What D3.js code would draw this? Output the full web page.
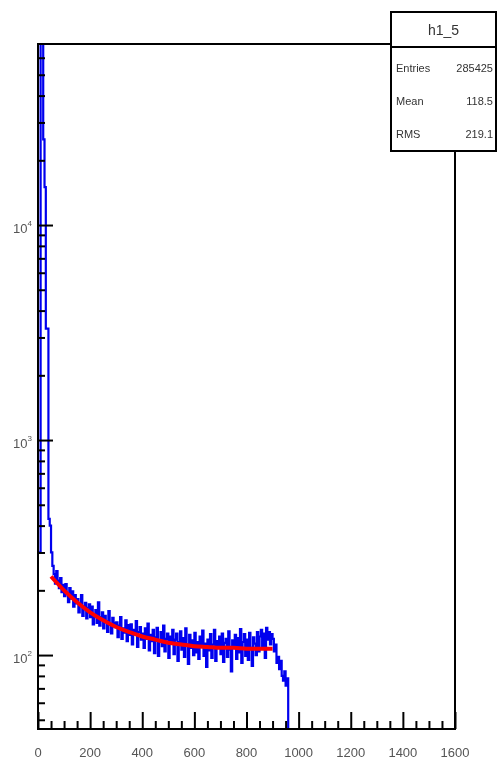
<!DOCTYPE html>
<html>
<head>
<meta charset="utf-8">
<script src="https://cdn.jsdelivr.net/npm/d3@7"></script>
<style>
  html, body { margin: 0; padding: 0; background: #fff; }
  svg { display: block; filter: blur(0.5px); }
  text { font-family: "Liberation Sans", Arial, sans-serif; }
</style>
</head>
<body>
<div id="chart"></div>
<script>
// histogram h1_5: bins of 5 units starting at 0 (content per bin)
var binWidth = 5
var binCounts = [
  300, 300, 90000, 80000, 25000, 15000, 3300, 3300, 430, 400, 300, 260,
  238, 215, 246, 222, 205, 228, 196, 212,
  188, 214, 192, 176, 205, 183, 198, 168, 190, 174,
  182, 158, 171, 190, 152, 168, 175, 148, 166, 172,
  150, 168, 139, 155, 162, 141, 176, 137, 150, 158,
  133, 152, 144, 128, 160, 138, 126, 149, 141, 135,
  142, 121, 137, 150, 119, 133, 127, 145, 116, 138,
  124, 139, 112, 131, 126, 144, 109, 128, 135, 118,
  126, 108, 133, 119, 140, 105, 124, 116, 131, 102,
  121, 134, 99, 117, 128, 110, 137, 104, 119, 126,
  97, 122, 113, 131, 101, 118, 126, 94, 115, 129,
  106, 120, 98, 133, 112, 91, 124, 108, 117, 100,
  127, 103, 115, 96, 122, 110, 130, 99, 113, 88,
  118, 105, 125, 97, 112, 131, 94, 116, 108, 122,
  101, 126, 93, 114, 119, 98, 129, 106, 84, 117,
  111, 124, 96, 120, 103, 132, 92, 115, 125, 99,
  118, 95, 127, 108, 89, 121, 113, 100, 128, 104,
  122, 131, 109, 126, 97, 134, 118, 128, 112, 125,
  119, 104, 112, 92, 98, 86, 94, 80, 76, 84, 72, 78
]

// fitted curve (red)
var fitX = [50, 100, 150, 200, 250, 300, 350, 400, 450, 500, 550, 600, 650, 700, 750, 800, 850, 900]
var fitY = [232, 200, 176, 158, 145, 135, 128, 122, 118, 114, 112, 110, 109, 108, 108, 107, 107, 107]

var xTicks = [0, 200, 400, 600, 800, 1000, 1200, 1400, 1600]
var yTickExps = [2, 3, 4]

var statsTitle = "h1_5"
var statsNames = ["Entries", "Mean", "RMS"]
var statsValues = ["285425", "118.5", "219.1"]

var W = 497, H = 762
var frame = {left: 38, right: 455, top: 44, bottom: 729}

var svg = d3.select("#chart").append("svg")
  .attr("width", W).attr("height", H)

var x = d3.scaleLinear().domain([0, 1600]).range([frame.left, frame.right])
var y = d3.scaleLog().domain([45.3, 69500]).range([frame.bottom, frame.top])

svg.append("clipPath").attr("id", "plotclip")
  .append("rect")
    .attr("x", frame.left).attr("y", frame.top)
    .attr("width", frame.right - frame.left)
    .attr("height", frame.bottom - frame.top)

var plot = svg.append("g").attr("clip-path", "url(#plotclip)")

// step outline of the histogram
var pts = []
binCounts.forEach(function(v, i) {
  var lo = i * binWidth, hi = lo + binWidth
  var yy = v > 0 ? y(v) : frame.bottom
  pts.push([x(lo), yy], [x(hi), yy])
})
pts.push([x(binCounts.length * binWidth), frame.bottom + 2])

plot.append("path")
  .attr("d", d3.line()(pts))
  .style("fill", "none")
  .style("stroke", "#0000ee")
  .style("stroke-width", 2.2)

// fit
plot.append("path")
  .datum(fitX.map(function(d, i) { return [d, fitY[i]] }))
  .attr("d", d3.line().x(function(d) { return x(d[0]) }).y(function(d) { return y(d[1]) }).curve(d3.curveMonotoneX))
  .style("fill", "none")
  .style("stroke", "#ff0000")
  .style("stroke-width", 4)

// frame
svg.append("rect")
  .attr("x", frame.left).attr("y", frame.top)
  .attr("width", frame.right - frame.left)
  .attr("height", frame.bottom - frame.top)
  .style("fill", "none").style("stroke", "#000").style("stroke-width", 2)

// x axis ticks: major every 200, minor every 50
var xAxis = d3.axisBottom(x).tickValues(d3.range(0, 1601, 50)).tickSize(0).tickFormat("")
var xg = svg.append("g").attr("transform", "translate(0," + frame.bottom + ")").call(xAxis)
xg.select(".domain").remove()
xg.selectAll(".tick line")
  .attr("y1", 0)
  .attr("y2", function(d) { return d % 200 === 0 ? -17 : -8 })
  .style("stroke", "#000").style("stroke-width", 2)

svg.selectAll(".xlab").data(xTicks).enter()
  .append("text")
    .attr("class", "xlab")
    .attr("x", function(d) { return x(d) })
    .attr("y", 757)
    .attr("text-anchor", "middle")
    .style("font-size", "13px")
    .style("fill", "#555")
    .text(function(d) { return d })

// y axis ticks: log decades + minors
var yTickVals = []
;[1, 2, 3, 4].forEach(function(e) {
  for (var m = 1; m <= 9; m++) {
    var v = m * Math.pow(10, e)
    if (v >= 45.3 && v <= 69500) yTickVals.push(v)
  }
})
function isDecade(d) {
  var l = Math.log10(d)
  return Math.abs(l - Math.round(l)) < 1e-9
}
var yAxis = d3.axisLeft(y).tickValues(yTickVals).tickSize(0).tickFormat("")
var yg = svg.append("g").attr("transform", "translate(" + frame.left + ",0)").call(yAxis)
yg.select(".domain").remove()
yg.selectAll(".tick line")
  .attr("x1", 0)
  .attr("x2", function(d) { return isDecade(d) ? 15 : 7 })
  .style("stroke", "#000").style("stroke-width", 2)

var ylab = svg.selectAll(".ylab").data(yTickExps).enter()
  .append("text")
    .attr("class", "ylab")
    .attr("x", 32)
    .attr("y", function(d) { return y(Math.pow(10, d)) + 8 })
    .attr("text-anchor", "end")
    .style("font-size", "13px")
    .style("fill", "#555")
ylab.append("tspan").text("10")
ylab.append("tspan").attr("dy", -7).style("font-size", "8px").text(function(d) { return d })

// stats box
var box = {x: 391, y: 12, w: 105, h: 139, sep: 47}
var sg = svg.append("g")
sg.append("rect")
  .attr("x", box.x).attr("y", box.y).attr("width", box.w).attr("height", box.h)
  .style("fill", "#fff").style("stroke", "#000").style("stroke-width", 2)
sg.append("line")
  .attr("x1", box.x).attr("x2", box.x + box.w)
  .attr("y1", box.sep).attr("y2", box.sep)
  .style("stroke", "#000").style("stroke-width", 2)
sg.append("text")
  .attr("x", box.x + box.w / 2).attr("y", 35)
  .attr("text-anchor", "middle")
  .style("font-size", "14px").style("fill", "#333")
  .text(statsTitle)
statsNames.forEach(function(n, i) {
  var yy = 72 + i * 33
  sg.append("text").attr("x", box.x + 5).attr("y", yy)
    .style("font-size", "11px").style("fill", "#333").text(n)
  sg.append("text").attr("x", box.x + box.w - 3).attr("y", yy)
    .attr("text-anchor", "end")
    .style("font-size", "11px").style("fill", "#333").text(statsValues[i])
})
</script>
</body>
</html>
